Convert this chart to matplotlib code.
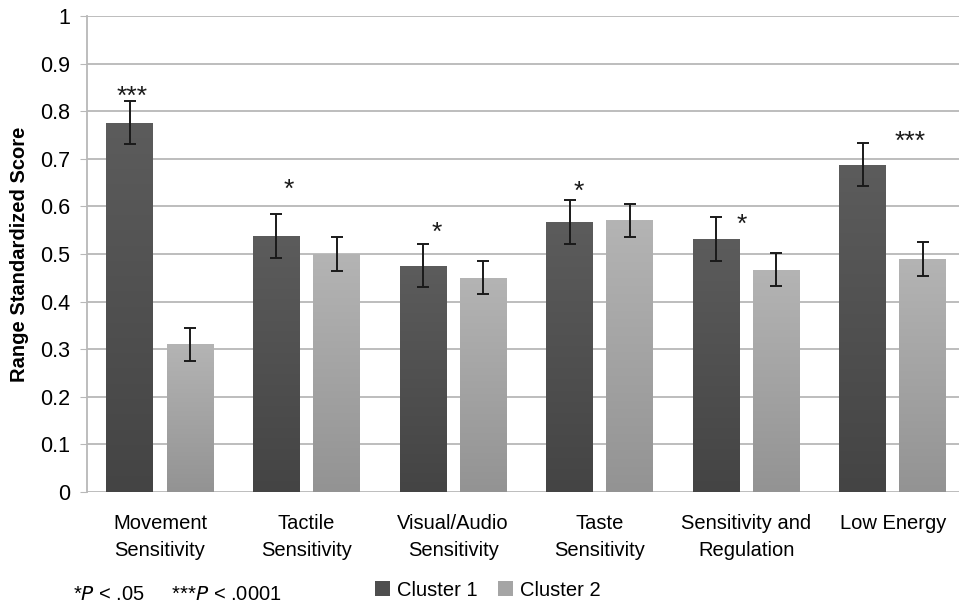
import numpy as np
import matplotlib
matplotlib.use("Agg")
import matplotlib.pyplot as plt
from matplotlib.colors import LinearSegmentedColormap
from matplotlib.patches import Patch

plt.rcParams['font.family'] = ['Liberation Sans', 'DejaVu Sans']

categories = ['Movement\nSensitivity', 'Tactile\nSensitivity', 'Visual/Audio\nSensitivity',
              'Taste\nSensitivity', 'Sensitivity and\nRegulation', 'Low Energy']
cluster1 = [0.776, 0.538, 0.475, 0.567, 0.532, 0.688]
cluster1_err = [0.045, 0.046, 0.045, 0.046, 0.046, 0.045]
cluster2 = [0.310, 0.500, 0.450, 0.571, 0.467, 0.490]
cluster2_err = [0.035, 0.035, 0.035, 0.035, 0.035, 0.036]

# significance marks: (category index, x offset, y, text)
stars = [(0, -0.19, 0.83, '***'), (1, -0.12, 0.635, '*'), (2, -0.11, 0.545, '*'),
         (3, -0.14, 0.63, '*'), (4, -0.03, 0.562, '*'), (5, 0.12, 0.735, '***')]

fig = plt.figure(figsize=(9.59, 6.07), dpi=100)
ax = fig.add_axes([0.0904, 0.1895, 0.917, 0.7841])

x = np.arange(len(categories))
w = 0.32
off = 0.205
b1 = ax.bar(x - off, cluster1, w, color='#4e4e4e', zorder=2)
b2 = ax.bar(x + off, cluster2, w, color='#a5a5a5', zorder=2)

# vertical gradient fill on the bars
cm1 = LinearSegmentedColormap.from_list('c1', ['#444444', '#5c5c5c'])
cm2 = LinearSegmentedColormap.from_list('c2', ['#939393', '#b4b4b4'])
grad = np.linspace(0, 1, 256).reshape(-1, 1)
for bars, cm in ((b1, cm1), (b2, cm2)):
    for r in bars:
        x0, y0 = r.get_x(), r.get_y()
        im = ax.imshow(grad, cmap=cm, origin='lower', aspect='auto', zorder=2.5,
                       extent=[x0, x0 + r.get_width(), y0, y0 + r.get_height()])
        im.set_clip_path(r)

ax.errorbar(x - off, cluster1, yerr=cluster1_err, fmt='none', ecolor='#1a1a1a',
            elinewidth=1.4, capsize=4, capthick=1.4, zorder=4)
ax.errorbar(x + off, cluster2, yerr=cluster2_err, fmt='none', ecolor='#1a1a1a',
            elinewidth=1.4, capsize=4, capthick=1.4, zorder=4)

for i, dx, yy, s in stars:
    ax.text(i + dx, yy, s, ha='center', va='center', fontsize=19, color='#1a1a1a')

ax.set_xlim(-0.5, 5.5)
ax.set_ylim(0, 1)
ax.set_yticks(np.arange(0, 1.01, 0.1))
ax.set_yticklabels(['0'] + ['%.1f' % v for v in np.arange(0.1, 0.95, 0.1)] + ['1'])
ax.yaxis.grid(True, color='#b8b8b8', linewidth=1.3, zorder=0)
ax.set_axisbelow(True)
ax.set_xticks(x)
ax.set_xticklabels(categories, fontsize=14.5, linespacing=1.5)
ax.tick_params(axis='x', length=0, pad=16)
ax.tick_params(axis='y', length=5, color='#b8b8b8', labelsize=15.5, pad=7)
for s in ['top', 'right', 'bottom']:
    ax.spines[s].set_visible(False)
ax.spines['left'].set_color('#b8b8b8')
ax.spines['left'].set_linewidth(1.3)
ax.set_ylabel('Range Standardized Score', fontsize=14.5, fontweight='bold', labelpad=8)

fig.text(0.076, 0.012, r'*$\it{P}$ < .05     ***$\it{P}$ < .0001', fontsize=14.5)
handles = [Patch(facecolor='#4e4e4e', label='Cluster 1'),
           Patch(facecolor='#a5a5a5', label='Cluster 2')]
fig.legend(handles=handles, loc='lower left', bbox_to_anchor=(0.372, -0.018), ncol=2,
           frameon=False, fontsize=14.5, handlelength=0.75, handleheight=0.75,
           handletextpad=0.35, columnspacing=1.0)

fig.savefig('out.png', dpi=100)
